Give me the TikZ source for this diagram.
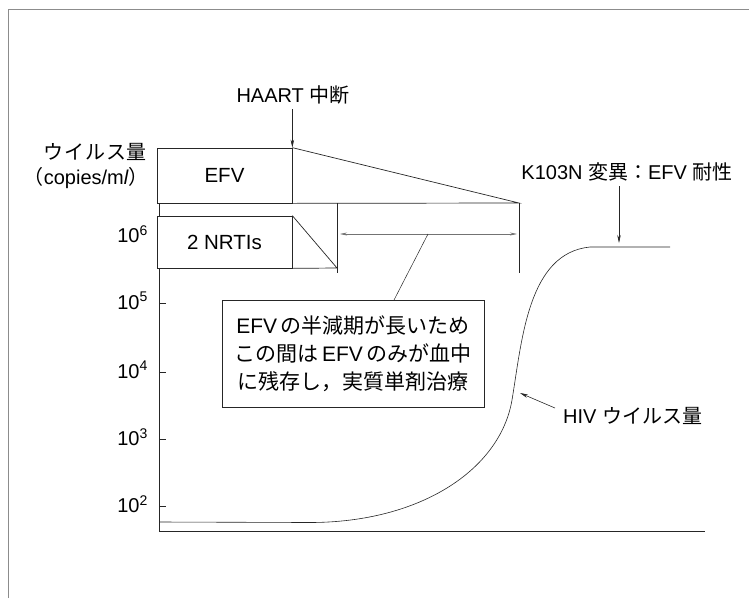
\documentclass[tikz,border=0pt]{standalone}
\usepackage{fontspec}
\setmainfont{Liberation Sans}
\newfontfamily\jp{Noto Sans CJK JP}
\usetikzlibrary{arrows.meta}
\begin{document}
\begin{tikzpicture}[x=1pt,y=-1pt,
  ln/.style={draw=black!85, line width=0.7pt},
  lbl/.style={inner sep=0pt, font=\fontsize{20}{24}\selectfont},
  boxn/.style={draw=black!85, line width=0.7pt, fill=white, inner sep=0pt, font=\fontsize{20.5}{24}\selectfont},
  notebox/.style={draw=black!85, line width=0.7pt, fill=white, inner sep=0pt, font=\fontsize{21}{28}\selectfont},
  arr/.style={draw=black!85, line width=0.6pt, -{Stealth[length=8pt,width=3.5pt]}},
  darr/.style={draw=black!55, line width=0.6pt, {Stealth[length=7pt,width=3pt]}-{Stealth[length=7pt,width=3pt]}},
  ]
\useasboundingbox (0,0) rectangle (749,598);
% outer frame
\draw[draw=black!45, line width=0.6pt] (8,598) -- (8,9) -- (749,9);

% axes
\coordinate (ytop) at (159,203);
\coordinate (orig) at (159,531);
\coordinate (xend) at (705,531);
\draw[ln] (ytop) -- (orig) -- (xend);
\foreach \yy/\ee in {236/6,303/5,372/4,439/3,506/2}{
  \draw[ln] (159,\yy) -- (166,\yy);
  \node[lbl, anchor=east] at (148,\yy-2) {10\textsuperscript{\ee}};
}

% y-axis title
\node[lbl, anchor=east] (ylab1) at (147,152) {\jp ウ\hspace{0.8pt}イ\hspace{0.8pt}ル\hspace{0.8pt}ス\hspace{0.8pt}量};
\node[lbl, anchor=east] (ylab2) at (149,178) {{\jp （}copies/m\textit{l}{\jp ）}};

% EFV
\node[boxn, minimum width=135pt, minimum height=55pt] (efv) at (224.5,175.5) {EFV};
\coordinate (efvend) at (519,203);
\coordinate (efvbot) at (519,273);
\draw[ln] (efv.north east) -- (efvend) -- (efv.south east);
\draw[ln] (efvend) -- (efvbot);

% 2 NRTIs
\node[boxn, minimum width=135pt, minimum height=52pt] (nrti) at (224.5,242) {2 NRTIs};
\coordinate (ntop) at (337,203);
\coordinate (nend) at (337,268);
\coordinate (nbot) at (337,273);
\draw[ln] (nrti.north east) -- (nend) -- (nrti.south east);
\draw[ln] (ntop) -- (nbot);

% HAART
\node[lbl] (haart) at (293,95) {HAART {\jp 中断}};
\draw[arr] (haart.south -| efv.north east) ++(0,5) -- (efv.north east);

% period arrow and note
\coordinate (pa) at (340,234);
\coordinate (pb) at (517,234);
\draw[darr] (pa) -- (pb);
\node[notebox, minimum width=262pt, minimum height=107pt, align=center] (note) at (353,353.5)
  {EFV\,{\jp の半減期が長いため}\\
   {\jp この間は}\,EFV\,{\jp のみが血中}\\
   {\jp に残存し，実質単剤治療}};
\coordinate (lm) at (428,234);
\coordinate (lt) at (394,300);
\draw[ln, line width=0.5pt] (lm) -- (lt);

% HIV curve
\coordinate (c0) at (160,522);
\coordinate (c1) at (310,522.5);
\coordinate (c2) at (512,400);
\coordinate (c3) at (590,247);
\coordinate (c4) at (670,247);
\draw[ln, line width=0.6pt] (c0) -- (c1)
  .. controls (420,522.5) and (500,470) .. (c2)
  .. controls (522,340) and (528,253) .. (c3) -- (c4);

% K103N
\node[lbl] (k103) at (627,172) {K103N {\jp 変異：}EFV {\jp 耐性}};
\coordinate (kt) at (619,243);
\draw[arr] (k103.south -| kt) ++(0,5) -- (kt);

% HIV label
\node[lbl, anchor=west] (hiv) at (563,416) {HIV {\jp ウイルス量}};
\coordinate (ht) at (520,393);
\draw[arr] (hiv.west) ++(-8,-8) -- (ht);
\end{tikzpicture}
\end{document}
